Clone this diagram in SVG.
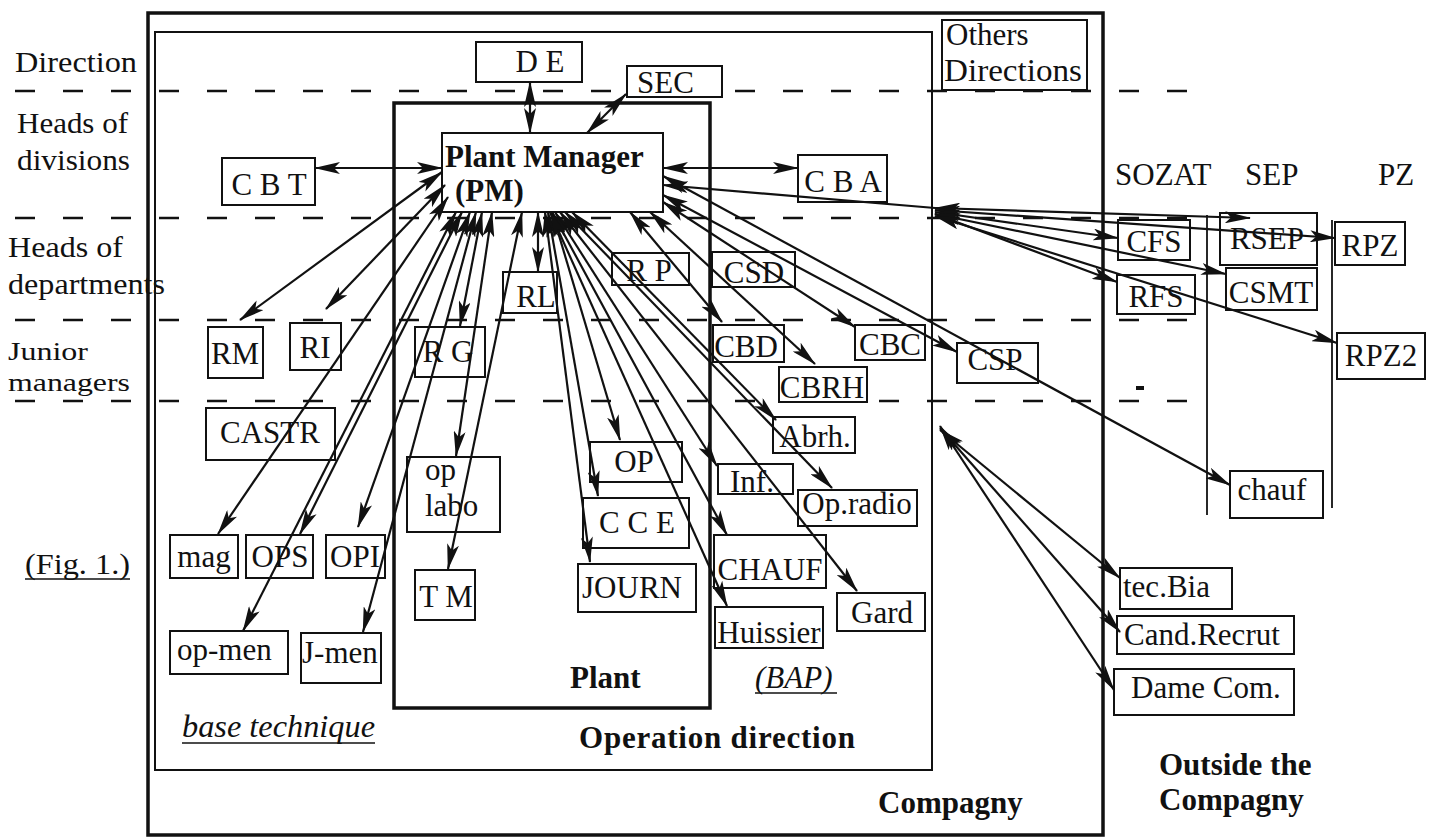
<svg xmlns="http://www.w3.org/2000/svg" width="1440" height="837" viewBox="0 0 1440 837">
<style>
text{font-family:"Liberation Serif","Times New Roman",serif;font-size:31px;fill:#111}
.m{text-anchor:middle}
.b{font-weight:bold}
.i{font-style:italic}
.l{font-size:29px}
.ls{font-size:26px}
.nb rect{fill:#fff;stroke:#111;stroke-width:2}
.dash{stroke:#111;stroke-width:2.5;stroke-dasharray:20 28;fill:none}
.c line{stroke:#111;stroke-width:2.2;marker-start:url(#ah);marker-end:url(#ah)}
.c line.s{marker-end:none}
</style>
<defs>
<marker id="ah" viewBox="0 0 26 12" refX="25" refY="6" markerWidth="26" markerHeight="12" markerUnits="userSpaceOnUse" orient="auto-start-reverse"><path d="M0,0 L26,6 L0,12 L6,6 z" fill="#111"/></marker>
</defs>
<rect width="1440" height="837" fill="#fff"/>

<g id="frames" fill="none" stroke="#111">
<rect x="148" y="13" width="955" height="822" stroke-width="3.5"/>
<rect x="155" y="32" width="777" height="738" stroke-width="2"/>
<rect x="394" y="103" width="316" height="605" stroke-width="3.5"/>
<line x1="1207" y1="215" x2="1207" y2="515" stroke-width="1.8"/>
<line x1="1332" y1="220" x2="1332" y2="508" stroke-width="1.8"/>
</g>

<g id="levels">
<line class="dash" x1="15" y1="91" x2="1198" y2="91"/>
<line class="dash" x1="15" y1="218" x2="1200" y2="218"/>
<line class="dash" x1="15" y1="320" x2="1200" y2="320"/>
<line class="dash" x1="15" y1="401" x2="1200" y2="401"/>
<rect x="1136" y="386" width="8" height="4" fill="#111"/>
</g>

<g id="labels">
<text x="15" y="72" class="l" textLength="122" lengthAdjust="spacingAndGlyphs">Direction</text>
<text x="17" y="133" class="l" textLength="111" lengthAdjust="spacingAndGlyphs">Heads of</text>
<text x="17" y="170" class="l" textLength="113" lengthAdjust="spacingAndGlyphs">divisions</text>
<text x="8" y="257" class="l" textLength="115" lengthAdjust="spacingAndGlyphs">Heads of</text>
<text x="8" y="294" class="l" textLength="157" lengthAdjust="spacingAndGlyphs">departments</text>
<text x="8" y="360" class="ls" textLength="80" lengthAdjust="spacingAndGlyphs">Junior</text>
<text x="8" y="391" class="ls" textLength="122" lengthAdjust="spacingAndGlyphs">managers</text>
<text x="25" y="574" class="l" textLength="105" lengthAdjust="spacingAndGlyphs">(Fig. 1.)</text>
<line x1="25" y1="579" x2="130" y2="579" stroke="#111" stroke-width="1.5"/>
<text x="1115" y="185">SOZAT</text>
<text x="1245" y="185">SEP</text>
<text x="1378" y="185">PZ</text>
<text x="1159" y="775" class="b">Outside the</text>
<text x="1159" y="810" class="b">Compagny</text>
<text x="878" y="813" class="b">Compagny</text>
<text x="579" y="748" class="b" textLength="276">Operation  direction</text>
<text x="570" y="688" class="b">Plant</text>
<text x="755" y="688" class="i">(BAP)</text>
<line x1="755" y1="693" x2="837" y2="693" stroke="#111" stroke-width="1.5"/>
<text x="182" y="737" class="i" textLength="193" lengthAdjust="spacingAndGlyphs">base technique</text>
<line x1="182" y1="743" x2="375" y2="743" stroke="#111" stroke-width="1.5"/>
</g>

<g id="node-DE" class="nb"><rect x="476" y="42" width="106" height="40"/><text x="540" y="72" class="m">D E</text></g>
<g id="node-SEC" class="nb"><rect x="627" y="66" width="95" height="31"/><text x="637" y="93">SEC</text></g>
<g id="node-Others" class="nb"><rect x="942" y="20" width="145" height="70"/><text x="946" y="45">Others</text><text x="944" y="81" textLength="138" lengthAdjust="spacingAndGlyphs">Directions</text></g>
<g id="node-PM" class="nb"><rect x="442" y="133" width="221" height="79"/><text x="445" y="167" class="b">Plant Manager</text><text x="455" y="201" class="b">(PM)</text></g>
<g id="node-CBT" class="nb"><rect x="222" y="158" width="93" height="47"/><text x="269" y="195" class="m">C B T</text></g>
<g id="node-CBA" class="nb"><rect x="798" y="155" width="89" height="47"/><text x="843" y="192" class="m">C B A</text></g>
<g id="node-RM" class="nb"><rect x="208" y="327" width="55" height="51"/><text x="235" y="364" class="m">RM</text></g>
<g id="node-RI" class="nb"><rect x="290" y="323" width="51" height="47"/><text x="315" y="358" class="m">RI</text></g>
<g id="node-RG" class="nb"><rect x="415" y="327" width="70" height="50"/><text x="448" y="362" class="m">R G</text></g>
<g id="node-CASTR" class="nb"><rect x="206" y="408" width="129" height="52"/><text x="270" y="443" class="m">CASTR</text></g>
<g id="node-oplabo" class="nb"><rect x="407" y="457" width="93" height="75"/><text x="425" y="480">op</text><text x="425" y="516">labo</text></g>
<g id="node-TM" class="nb"><rect x="415" y="570" width="60" height="50"/><text x="446" y="607" class="m">T M</text></g>
<g id="node-mag" class="nb"><rect x="170" y="535" width="68" height="43"/><text x="204" y="567" class="m">mag</text></g>
<g id="node-OPS" class="nb"><rect x="246" y="535" width="67" height="43"/><text x="280" y="567" class="m">OPS</text></g>
<g id="node-OPI" class="nb"><rect x="326" y="535" width="59" height="43"/><text x="355" y="567" class="m">OPI</text></g>
<g id="node-opmen" class="nb"><rect x="170" y="631" width="118" height="43"/><text x="177" y="660">op-men</text></g>
<g id="node-Jmen" class="nb"><rect x="301" y="633" width="80" height="50"/><text x="302" y="663">J-men</text></g>
<g id="node-RL" class="nb"><rect x="503" y="272" width="54" height="41"/><text x="536" y="307" class="m">RL</text></g>
<g id="node-RP" class="nb"><rect x="612" y="253" width="77" height="32"/><text x="649" y="281" class="m">R P</text></g>
<g id="node-CSD" class="nb"><rect x="712" y="252" width="83" height="35"/><text x="754" y="283" class="m">CSD</text></g>
<g id="node-CBD" class="nb"><rect x="713" y="325" width="71" height="37"/><text x="746" y="357" class="m">CBD</text></g>
<g id="node-CBC" class="nb"><rect x="855" y="325" width="70" height="35"/><text x="890" y="355" class="m">CBC</text></g>
<g id="node-CBRH" class="nb"><rect x="779" y="367" width="88" height="35"/><text x="822" y="398" class="m">CBRH</text></g>
<g id="node-Abrh" class="nb"><rect x="773" y="417" width="82" height="36"/><text x="815" y="447" class="m">Abrh.</text></g>
<g id="node-Inf" class="nb"><rect x="718" y="464" width="75" height="30"/><text x="752" y="492" class="m">Inf.</text></g>
<g id="node-Opradio" class="nb"><rect x="798" y="490" width="119" height="36"/><text x="857" y="514" class="m">Op.radio</text></g>
<g id="node-OP" class="nb"><rect x="590" y="442" width="92" height="40"/><text x="634" y="472" class="m">OP</text></g>
<g id="node-CCE" class="nb"><rect x="583" y="498" width="106" height="50"/><text x="637" y="533" class="m">C C E</text></g>
<g id="node-JOURN" class="nb"><rect x="578" y="564" width="118" height="48"/><text x="632" y="598" class="m">JOURN</text></g>
<g id="node-CHAUF" class="nb"><rect x="714" y="535" width="112" height="53"/><text x="770" y="580" class="m">CHAUF</text></g>
<g id="node-Huissier" class="nb"><rect x="715" y="607" width="108" height="41"/><text x="769" y="643" class="m">Huissier</text></g>
<g id="node-Gard" class="nb"><rect x="837" y="593" width="88" height="38"/><text x="882" y="623" class="m">Gard</text></g>
<g id="node-CSP" class="nb"><rect x="957" y="343" width="81" height="40"/><text x="995" y="370" class="m">CSP</text></g>
<g id="node-chauf" class="nb"><rect x="1230" y="471" width="93" height="47"/><text x="1272" y="500" class="m">chauf</text></g>
<g id="node-CFS" class="nb"><rect x="1118" y="220" width="72" height="40"/><text x="1154" y="252" class="m">CFS</text></g>
<g id="node-RSEP" class="nb"><rect x="1220" y="213" width="97" height="52"/><text x="1267" y="249" class="m">RSEP</text></g>
<g id="node-RPZ" class="nb"><rect x="1335" y="222" width="70" height="43"/><text x="1370" y="256" class="m">RPZ</text></g>
<g id="node-RFS" class="nb"><rect x="1117" y="275" width="78" height="39"/><text x="1156" y="307" class="m">RFS</text></g>
<g id="node-CSMT" class="nb"><rect x="1226" y="268" width="91" height="42"/><text x="1271" y="303" class="m">CSMT</text></g>
<g id="node-RPZ2" class="nb"><rect x="1337" y="333" width="88" height="46"/><text x="1381" y="366" class="m">RPZ2</text></g>
<g id="node-tecBia" class="nb"><rect x="1120" y="568" width="112" height="41"/><text x="1123" y="597">tec.Bia</text></g>
<g id="node-CandRecrut" class="nb"><rect x="1117" y="616" width="177" height="38"/><text x="1124" y="645">Cand.Recrut</text></g>
<g id="node-DameCom" class="nb"><rect x="1114" y="669" width="180" height="46"/><text x="1131" y="698">Dame Com.</text></g>

<g id="connectors" class="c">
<line x1="530" y1="82" x2="530" y2="133"/>
<line x1="626" y1="94" x2="587" y2="133"/>
<line x1="315" y1="168" x2="442" y2="168"/>
<line x1="663" y1="168" x2="798" y2="168"/>
<line class="s" x1="663" y1="185" x2="935" y2="208"/>
<line x1="935" y1="208" x2="1250" y2="218"/>
<line x1="935" y1="210" x2="1335" y2="238"/>
<line x1="935" y1="212" x2="1118" y2="238"/>
<line x1="935" y1="214" x2="1117" y2="282"/>
<line x1="935" y1="214" x2="1226" y2="274"/>
<line x1="935" y1="216" x2="1337" y2="343"/>
<line x1="663" y1="176" x2="1230" y2="485"/>
<line x1="663" y1="195" x2="957" y2="352"/>
<line x1="663" y1="202" x2="855" y2="327"/>
<line x1="650" y1="212" x2="815" y2="364"/>
<line x1="630" y1="212" x2="722" y2="322"/>
<line x1="552" y1="212" x2="620" y2="440"/>
<line x1="548" y1="212" x2="598" y2="496"/>
<line x1="545" y1="212" x2="590" y2="562"/>
<line x1="555" y1="212" x2="717" y2="466"/>
<line x1="552" y1="212" x2="727" y2="535"/>
<line x1="550" y1="212" x2="727" y2="606"/>
<line x1="560" y1="212" x2="857" y2="591"/>
<line x1="565" y1="212" x2="832" y2="488"/>
<line x1="572" y1="212" x2="776" y2="420"/>
<line x1="442" y1="172" x2="240" y2="320"/>
<line x1="445" y1="185" x2="326" y2="309"/>
<line x1="448" y1="197" x2="218" y2="534"/>
<line x1="456" y1="212" x2="243" y2="631"/>
<line x1="462" y1="212" x2="300" y2="534"/>
<line x1="470" y1="212" x2="358" y2="527"/>
<line x1="476" y1="212" x2="363" y2="632"/>
<line x1="482" y1="212" x2="460" y2="326"/>
<line x1="492" y1="212" x2="456" y2="456"/>
<line x1="522" y1="212" x2="448" y2="569"/>
<line x1="538" y1="212" x2="538" y2="272"/>
<line x1="940" y1="430" x2="1120" y2="578"/>
<line x1="940" y1="428" x2="1120" y2="632"/>
<line x1="940" y1="426" x2="1114" y2="690"/>
</g>
</svg>
